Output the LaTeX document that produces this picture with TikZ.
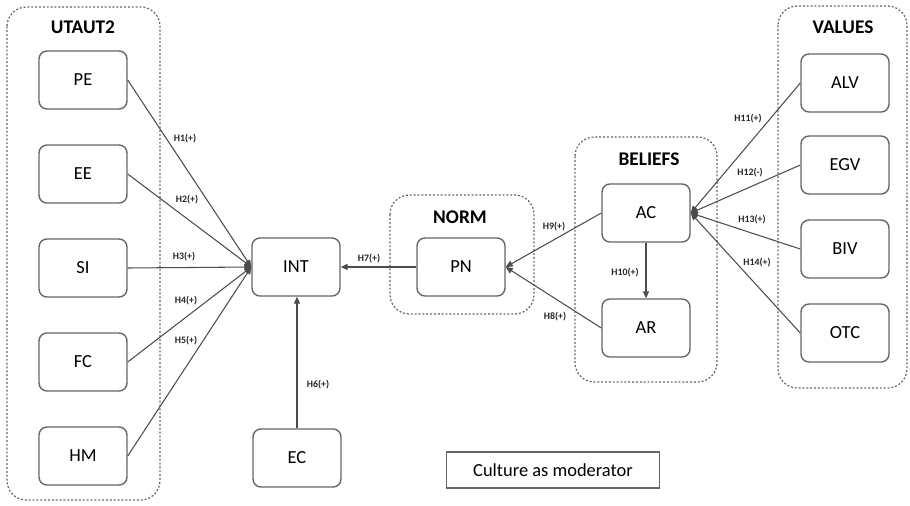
\documentclass[tikz,border=0pt]{standalone}
\usepackage{fontspec}
\setmainfont{Carlito}
\usetikzlibrary{arrows.meta}
\begin{document}
\begin{tikzpicture}[x=0.02cm,y=-0.02cm,
	construct/.style={draw=black!60,line width=0.8pt,rounded corners=4.5pt,minimum width=1.76cm,minimum height=1.16cm,inner sep=0pt,font=\fontsize{10.5}{12}\selectfont},
	group/.style={draw=black!60,line width=0.7pt,dash pattern=on 1.1pt off 1.1pt,rounded corners=11pt},
	grouptitle/.style={font=\bfseries\fontsize{11}{12}\selectfont},
	link/.style={draw=black!70,line width=0.6pt,-{Triangle[length=4pt,width=3.5pt]}},
	hyp/.style={font=\bfseries\fontsize{5.6}{6}\selectfont,text=black!85,inner sep=0pt}]
	\useasboundingbox (0,0) rectangle (910,505);
	% containers
	\draw[group] (7,7) rectangle (160,500);
	\node[grouptitle] (tutaut) at (83,27) {UTAUT2};
	\draw[group] (390,195) rectangle (534,314);
	\node[grouptitle] (tnorm) at (460,217) {NORM};
	\draw[group] (575,137) rectangle (717,382);
	\node[grouptitle] (tbel) at (649,159) {BELIEFS};
	\draw[group] (778,6) rectangle (907,388);
	\node[grouptitle] (tval) at (843,27) {VALUES};
	% constructs
	\node[construct] (PE) at (83,80) {PE};
	\node[construct] (EE) at (83,174) {EE};
	\node[construct] (SI) at (83,268) {SI};
	\node[construct] (FC) at (83,362) {FC};
	\node[construct] (HM) at (83,456) {HM};
	\node[construct] (INT) at (296,267) {INT};
	\node[construct] (EC) at (297,458) {EC};
	\node[construct] (PN) at (461,267) {PN};
	\node[construct] (AC) at (646,213) {AC};
	\node[construct] (AR) at (646,328) {AR};
	\node[construct] (ALV) at (845,83) {ALV};
	\node[construct] (EGV) at (845,165) {EGV};
	\node[construct] (BIV) at (845,249) {BIV};
	\node[construct] (OTC) at (845,333) {OTC};
	\node[draw=black!60,line width=0.7pt,minimum width=4.26cm,minimum height=0.72cm,font=\fontsize{10.5}{12}\selectfont] (mod) at (553,470) {Culture as moderator};
	% hypotheses
	\draw[link] (PE.east) -- (INT.west);
	\draw[link] (EE.east) -- (INT.west);
	\draw[link] (SI.east) -- (INT.west);
	\draw[link] (FC.east) -- (INT.west);
	\draw[link] (HM.east) -- (INT.west);
	\draw[link] (EC.north) -- (EC.north |- INT.south);
	\draw[link] (PN.west) -- (INT.east);
	\draw[link] (AR.west) -- (PN.east);
	\draw[link] (AC.west) -- (PN.east);
	\draw[link] (AC.south) -- (AR.north);
	\draw[link] (ALV.west) -- (AC.east);
	\draw[link] (EGV.west) -- (AC.east);
	\draw[link] (BIV.west) -- (AC.east);
	\draw[link] (OTC.west) -- (AC.east);
	% labels
	\node[hyp] (h1) at (185,139) {H1(+)};
	\node[hyp] (h2) at (187,200) {H2(+)};
	\node[hyp] (h3) at (184,257) {H3(+)};
	\node[hyp] (h4) at (186,301) {H4(+)};
	\node[hyp] (h5) at (186,341) {H5(+)};
	\node[hyp] (h6) at (318,385) {H6(+)};
	\node[hyp] (h7) at (369,259) {H7(+)};
	\node[hyp] (h8) at (555,317) {H8(+)};
	\node[hyp] (h9) at (554,227) {H9(+)};
	\node[hyp] (h10) at (625,273) {H10(+)};
	\node[hyp] (h11) at (748,119) {H11(+)};
	\node[hyp] (h12) at (750,173) {H12(-)};
	\node[hyp] (h13) at (752,220) {H13(+)};
	\node[hyp] (h14) at (757,263) {H14(+)};
\end{tikzpicture}
\end{document}
